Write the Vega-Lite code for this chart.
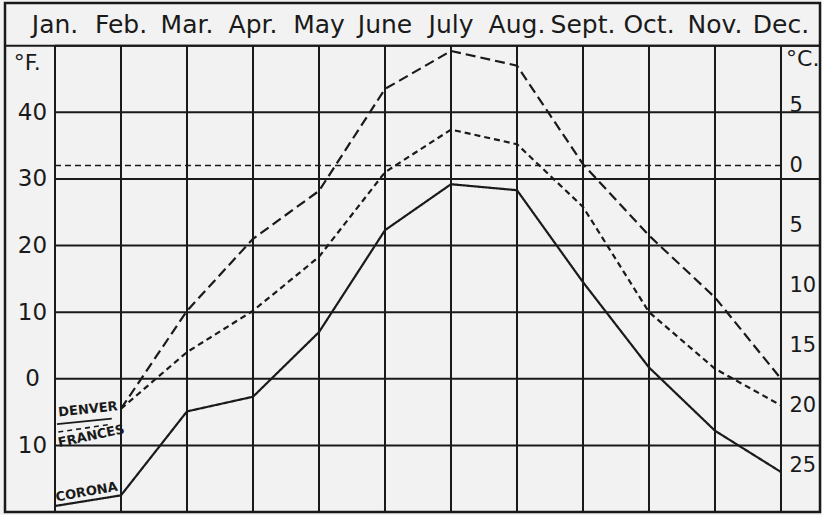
{
  "$schema": "https://vega.github.io/schema/vega-lite/v6.json",
  "width": 815,
  "height": 509,
  "autosize": {"type": "none"},
  "padding": {"left": 5, "top": 3, "right": 2, "bottom": 3},
  "background": "#f2f2f2",
  "config": {
    "view": {"stroke": "#1a1a1a", "strokeWidth": 2.5, "fill": "#f2f2f2"},
    "font": "DejaVu Sans",
    "text": {"font": "DejaVu Sans", "color": "#1a1a1a"}
  },
  "datasets": {
    "months": [
      {"month": 1, "name": "Jan."}, {"month": 2, "name": "Feb."}, {"month": 3, "name": "Mar."},
      {"month": 4, "name": "Apr."}, {"month": 5, "name": "May"}, {"month": 6, "name": "June"},
      {"month": 7, "name": "July"}, {"month": 8, "name": "Aug."}, {"month": 9, "name": "Sept."},
      {"month": 10, "name": "Oct."}, {"month": 11, "name": "Nov."}, {"month": 12, "name": "Dec."}
    ],
    "hlines": [{"t": -10}, {"t": 0}, {"t": 10}, {"t": 20}, {"t": 30}, {"t": 40}, {"t": 50}],
    "series": [
      {"city": "Denver", "month": 2, "temp": -4.5},
      {"city": "Denver", "month": 3, "temp": 10.2},
      {"city": "Denver", "month": 4, "temp": 21.0},
      {"city": "Denver", "month": 5, "temp": 28.2},
      {"city": "Denver", "month": 6, "temp": 43.5},
      {"city": "Denver", "month": 7, "temp": 49.2},
      {"city": "Denver", "month": 8, "temp": 47.0},
      {"city": "Denver", "month": 9, "temp": 32.2},
      {"city": "Denver", "month": 10, "temp": 21.5},
      {"city": "Denver", "month": 11, "temp": 12.2},
      {"city": "Denver", "month": 12, "temp": 0.0},
      {"city": "Frances", "month": 2, "temp": -4.5},
      {"city": "Frances", "month": 3, "temp": 4.0},
      {"city": "Frances", "month": 4, "temp": 10.2},
      {"city": "Frances", "month": 5, "temp": 18.3},
      {"city": "Frances", "month": 6, "temp": 31.0},
      {"city": "Frances", "month": 7, "temp": 37.4},
      {"city": "Frances", "month": 8, "temp": 35.2},
      {"city": "Frances", "month": 9, "temp": 25.8},
      {"city": "Frances", "month": 10, "temp": 10.0},
      {"city": "Frances", "month": 11, "temp": 1.5},
      {"city": "Frances", "month": 12, "temp": -4.0},
      {"city": "Corona", "month": 1, "temp": -19.1},
      {"city": "Corona", "month": 2, "temp": -17.5},
      {"city": "Corona", "month": 3, "temp": -4.9},
      {"city": "Corona", "month": 4, "temp": -2.7},
      {"city": "Corona", "month": 5, "temp": 7.0},
      {"city": "Corona", "month": 6, "temp": 22.3},
      {"city": "Corona", "month": 7, "temp": 29.2},
      {"city": "Corona", "month": 8, "temp": 28.3},
      {"city": "Corona", "month": 9, "temp": 14.5},
      {"city": "Corona", "month": 10, "temp": 1.7},
      {"city": "Corona", "month": 11, "temp": -7.8},
      {"city": "Corona", "month": 12, "temp": -14.0}
    ]
  },
  "resolve": {"axis": {"y": "independent"}},
  "layer": [
    {
      "data": {"name": "months"},
      "mark": {"type": "rule", "strokeWidth": 2, "color": "#1a1a1a"},
      "encoding": {
        "x": {"field": "month", "type": "quantitative", "scale": {"domain": [0.2424, 12.591], "nice": false, "zero": false}, "axis": null},
        "y": {"datum": -20, "type": "quantitative", "scale": {"domain": [-20, 56.4], "nice": false, "zero": false}, "axis": null},
        "y2": {"datum": 50}
      }
    },
    {
      "data": {"name": "hlines"},
      "mark": {"type": "rule", "strokeWidth": 2, "color": "#1a1a1a"},
      "encoding": {
        "x": {"datum": 1, "type": "quantitative", "axis": null},
        "x2": {"datum": 12.591},
        "y": {"field": "t", "type": "quantitative", "axis": null}
      }
    },
    {
      "data": {"values": [{"t": 50}]},
      "mark": {"type": "rule", "strokeWidth": 2, "color": "#1a1a1a"},
      "encoding": {
        "x": {"datum": 0.2424, "type": "quantitative", "axis": null},
        "x2": {"datum": 12.591},
        "y": {"field": "t", "type": "quantitative", "axis": null}
      }
    },
    {
      "data": {"values": [{"t": 32}]},
      "mark": {"type": "rule", "strokeWidth": 1.6, "color": "#1a1a1a", "strokeDash": [6, 4]},
      "encoding": {
        "x": {"datum": 1, "type": "quantitative", "axis": null},
        "x2": {"datum": 12},
        "y": {"field": "t", "type": "quantitative", "axis": null}
      }
    },
    {
      "data": {"name": "series"},
      "mark": {"type": "line", "strokeWidth": 2.2, "color": "#1a1a1a"},
      "encoding": {
        "x": {"field": "month", "type": "quantitative", "axis": null},
        "y": {
          "field": "temp", "type": "quantitative",
          "axis": {
            "orient": "left", "values": [-10, 0, 10, 20, 30, 40], "labelExpr": "abs(datum.value)",
            "domain": false, "ticks": false, "tickSize": 0, "grid": false, "offset": -27,
            "labelAlign": "center", "labelBaseline": "middle", "labelPadding": 0,
            "labelFontSize": 23, "labelColor": "#1a1a1a", "labelFont": "DejaVu Sans", "title": null
          }
        },
        "strokeDash": {"field": "city", "type": "nominal", "scale": {"domain": ["Denver", "Frances", "Corona"], "range": [[10, 5], [6, 4], [1, 0]]}, "legend": null},
        "detail": {"field": "city"}
      }
    },
    {
      "data": {"name": "series"},
      "mark": {"type": "point", "opacity": 0},
      "encoding": {
        "x": {"field": "month", "type": "quantitative", "axis": null},
        "y": {
          "field": "temp", "type": "quantitative",
          "axis": {
            "orient": "right", "values": [41, 32, 23, 14, 5, -4, -13], "labelExpr": "abs(round((datum.value - 32) * 5 / 9))",
            "domain": false, "ticks": false, "tickSize": 0, "grid": false, "offset": -31,
            "labelAlign": "left", "labelBaseline": "middle", "labelPadding": 0,
            "labelFontSize": 21, "labelColor": "#1a1a1a", "labelFont": "DejaVu Sans", "title": null
          }
        }
      }
    },
    {
      "data": {"name": "months"},
      "mark": {"type": "text", "fontSize": 25, "baseline": "middle", "align": "center"},
      "encoding": {
        "x": {"field": "month", "type": "quantitative", "axis": null},
        "y": {"datum": 53.1, "type": "quantitative", "axis": null},
        "text": {"field": "name"}
      }
    },
    {
      "data": {"values": [{"label": "°F.", "m": 0.58, "t": 47.4}]},
      "mark": {"type": "text", "fontSize": 22, "baseline": "middle", "align": "center"},
      "encoding": {
        "x": {"field": "m", "type": "quantitative", "axis": null},
        "y": {"field": "t", "type": "quantitative", "axis": null},
        "text": {"field": "label"}
      }
    },
    {
      "data": {"values": [{"label": "°C.", "m": 12.33, "t": 48.0}]},
      "mark": {"type": "text", "fontSize": 22, "baseline": "middle", "align": "center"},
      "encoding": {
        "x": {"field": "m", "type": "quantitative", "axis": null},
        "y": {"field": "t", "type": "quantitative", "axis": null},
        "text": {"field": "label"}
      }
    },
    {
      "data": {"values": [{"label": "DENVER", "m": 1.5, "t": -4.6}]},
      "mark": {"type": "text", "fontSize": 13, "fontWeight": "bold", "baseline": "middle", "align": "center", "angle": 354},
      "encoding": {
        "x": {"field": "m", "type": "quantitative", "axis": null},
        "y": {"field": "t", "type": "quantitative", "axis": null},
        "text": {"field": "label"}
      }
    },
    {
      "data": {"values": [{"label": "FRANCES", "m": 1.55, "t": -8.6}]},
      "mark": {"type": "text", "fontSize": 13, "fontWeight": "bold", "baseline": "middle", "align": "center", "angle": 348},
      "encoding": {
        "x": {"field": "m", "type": "quantitative", "axis": null},
        "y": {"field": "t", "type": "quantitative", "axis": null},
        "text": {"field": "label"}
      }
    },
    {
      "data": {"values": [{"label": "CORONA", "m": 1.48, "t": -17.0}]},
      "mark": {"type": "text", "fontSize": 13, "fontWeight": "bold", "baseline": "middle", "align": "center", "angle": 350},
      "encoding": {
        "x": {"field": "m", "type": "quantitative", "axis": null},
        "y": {"field": "t", "type": "quantitative", "axis": null},
        "text": {"field": "label"}
      }
    },
    {
      "data": {"values": [{"m": 1.03, "t": -6.8, "m2": 1.86, "t2": -6.0}]},
      "mark": {"type": "rule", "strokeWidth": 1.8, "color": "#1a1a1a"},
      "encoding": {
        "x": {"field": "m", "type": "quantitative", "axis": null},
        "y": {"field": "t", "type": "quantitative", "axis": null},
        "x2": {"field": "m2"},
        "y2": {"field": "t2"}
      }
    },
    {
      "data": {"values": [{"m": 1.05, "t": -8.0, "m2": 1.8, "t2": -6.9}]},
      "mark": {"type": "rule", "strokeWidth": 1.6, "color": "#1a1a1a", "strokeDash": [5, 4]},
      "encoding": {
        "x": {"field": "m", "type": "quantitative", "axis": null},
        "y": {"field": "t", "type": "quantitative", "axis": null},
        "x2": {"field": "m2"},
        "y2": {"field": "t2"}
      }
    }
  ]
}
